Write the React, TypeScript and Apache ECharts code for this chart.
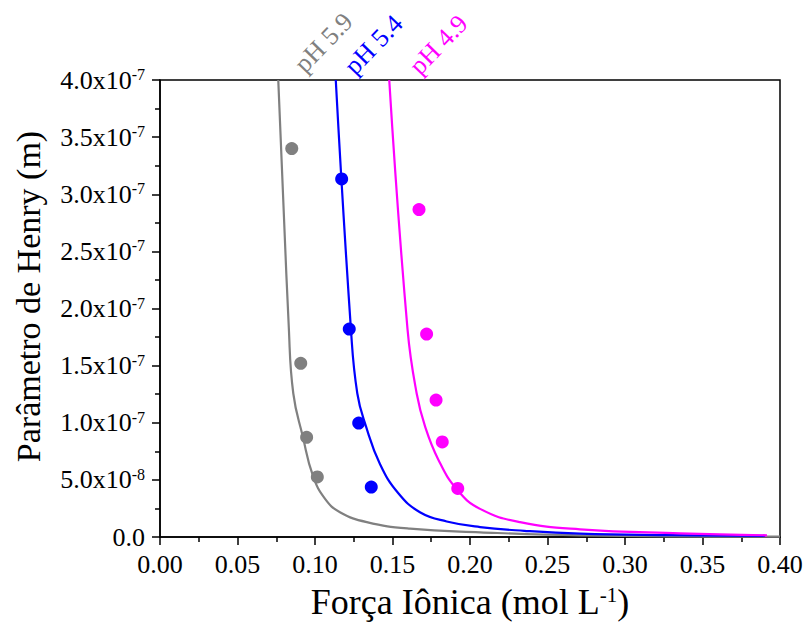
import React, { useEffect, useRef } from "react";
import * as echarts from "echarts";

// Data points (x: ionic strength mol/L, y: Henry parameter m)
const grayDots = [[0.0850, 3.40e-7], [0.0908, 1.52e-7], [0.0946, 0.873e-7], [0.1015, 0.526e-7]];
const blueDots = [[0.1172, 3.134e-7], [0.1221, 1.82e-7], [0.1282, 0.997e-7], [0.1363, 0.437e-7]];
const magentaDots = [[0.1671, 2.866e-7], [0.1720, 1.776e-7], [0.1781, 1.199e-7], [0.1821, 0.832e-7], [0.1921, 0.425e-7]];

// Fitted curves
const grayCurve = [
  [0.0763, 4.0e-7], [0.0831, 1.834e-7], [0.0860, 1.256e-7], [0.0921, 0.881e-7],
  [0.0987, 0.534e-7], [0.1065, 0.333e-7], [0.1161, 0.217e-7], [0.1334, 0.130e-7],
  [0.1613, 0.073e-7], [0.2065, 0.041e-7], [0.271, 0.015e-7], [0.40, 0.004e-7],
];
const blueCurve = [
  [0.1134, 4.0e-7], [0.1232, 1.815e-7], [0.1273, 1.256e-7], [0.1329, 0.968e-7],
  [0.1419, 0.639e-7], [0.1535, 0.387e-7], [0.1677, 0.217e-7], [0.185, 0.136e-7],
  [0.2065, 0.087e-7], [0.235, 0.054e-7], [0.271, 0.029e-7], [0.33, 0.016e-7], [0.3903, 0.009e-7],
];
const magentaCurve = [
  [0.1479, 4.0e-7], [0.1597, 1.817e-7], [0.1656, 1.256e-7], [0.1710, 0.968e-7],
  [0.1795, 0.679e-7], [0.1914, 0.419e-7], [0.2065, 0.246e-7], [0.2323, 0.130e-7],
  [0.2710, 0.067e-7], [0.3355, 0.032e-7], [0.3916, 0.015e-7],
];

const seriesLabels = ["pH 5.9", "pH 5.4", "pH 4.9"];
const seriesColors = ["#808080", "#0000FF", "#FF00FF"];

const xMin = 0, xMax = 0.4, xInterval = 0.05;
const yMin = 0, yMax = 4.0e-7, yInterval = 0.5e-7;

const FONT = "Liberation Serif";

export default function App() {
  const ref = useRef<HTMLDivElement>(null);
  useEffect(() => {
    document.body.style.margin = "0";
    document.documentElement.style.overflow = "hidden";
    if (!ref.current) return;
    const chart = echarts.init(ref.current, undefined, { renderer: "svg" });
    const yFmt = (v: number) => {
      if (Math.abs(v) < 1e-15) return "{a|0.0}";
      const e = Math.floor(Math.log10(v) + 1e-9);
      const m = v / Math.pow(10, e);
      return `{a|${m.toFixed(1)}x10}{s|${e}}`;
    };
    const curves = [grayCurve, blueCurve, magentaCurve];
    const dots = [grayDots, blueDots, magentaDots];
    const series: any[] = [];
    curves.forEach((c, i) => {
      series.push({
        type: "line",
        name: seriesLabels[i] + " fit",
        data: c,
        showSymbol: false,
        smooth: 0.45,
        lineStyle: { color: seriesColors[i], width: 2.2 },
        z: 2,
      });
    });
    dots.forEach((d, i) => {
      series.push({
        type: "scatter",
        name: seriesLabels[i],
        data: d,
        symbolSize: 13,
        itemStyle: { color: seriesColors[i], opacity: 1 },
        z: 3,
      });
    });
    const labelPos = [
      [299, 68],
      [349, 70],
      [414, 70],
    ];
    chart.setOption({
      animation: false,
      backgroundColor: "#fff",
      textStyle: { fontFamily: FONT },
      grid: {
        left: 160, right: 26, top: 80, bottom: 83,
        show: true, borderColor: "#000", borderWidth: 1.5, backgroundColor: "transparent",
      },
      xAxis: {
        type: "value",
        min: xMin, max: xMax, interval: xInterval,
        name: "{a|Força Iônica (mol L}{s|-1}{a|)}",
        nameLocation: "middle",
        nameGap: 47,
        nameTextStyle: {
          fontFamily: FONT,
          rich: {
            a: { fontFamily: FONT, fontSize: 36, color: "#000", lineHeight: 36 },
            s: { fontFamily: FONT, fontSize: 21, color: "#000", verticalAlign: "top", lineHeight: 21 },
          },
        },
        axisLine: { show: true, lineStyle: { color: "#000", width: 1.5 } },
        axisTick: { show: true, length: 8, lineStyle: { color: "#000", width: 1.5 } },
        minorTick: { show: true, splitNumber: 2, length: 5, lineStyle: { color: "#000", width: 1.5 } },
        splitLine: { show: false },
        axisLabel: {
          margin: 14,
          fontFamily: FONT,
          fontSize: 26,
          color: "#000",
          formatter: (v: number) => v.toFixed(2),
        },
      },
      yAxis: {
        type: "value",
        min: yMin, max: yMax, interval: yInterval,
        name: "{a|Parâmetro de Henry (m)}",
        nameLocation: "middle",
        nameGap: 115,
        nameTextStyle: {
          fontFamily: FONT,
          padding: [0, 0, 0, 24],
          rich: {
            a: { fontFamily: FONT, fontSize: 34, color: "#000", lineHeight: 34 },
          },
        },
        axisLine: { show: true, lineStyle: { color: "#000", width: 1.5 } },
        axisTick: { show: true, length: 8, lineStyle: { color: "#000", width: 1.5 } },
        minorTick: { show: true, splitNumber: 2, length: 5, lineStyle: { color: "#000", width: 1.5 } },
        splitLine: { show: false },
        axisLabel: {
          margin: 15,
          fontFamily: FONT,
          formatter: yFmt,
          rich: {
            a: { fontFamily: FONT, fontSize: 26, color: "#000", lineHeight: 27 },
            s: { fontFamily: FONT, fontSize: 16, color: "#000", verticalAlign: "top", lineHeight: 16 },
          },
        },
      },
      graphic: seriesLabels.map((t, i) => ({
        type: "text",
        x: labelPos[i][0],
        y: labelPos[i][1],
        rotation: (46 * Math.PI) / 180,
        style: {
          text: t,
          fill: seriesColors[i],
          fontFamily: FONT,
          fontSize: 26,
          textAlign: "left",
          textVerticalAlign: "middle",
        },
        z: 10,
      })),
      series,
    });
    return () => chart.dispose();
  }, []);
  return (
    <div
      ref={ref}
      style={{ position: "absolute", left: 0, top: 0, width: 806, height: 625, background: "#fff" }}
    />
  );
}
